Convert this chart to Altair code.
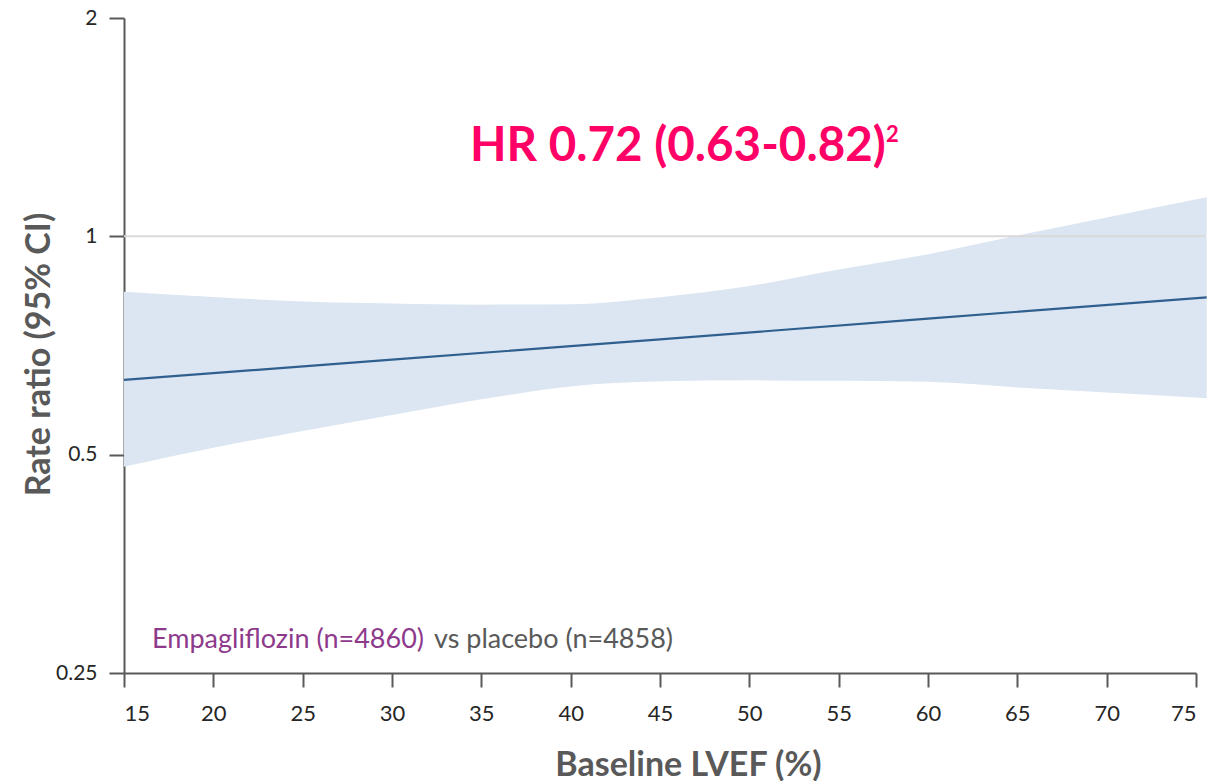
import altair as alt
import pandas as pd

# Baseline LVEF (%) grid at which the fitted curve and its 95% CI are read
lvef = [15, 20, 25, 30, 35, 40, 45, 50, 55, 60, 65, 70, 75.6]
ci_upper = [0.839, 0.825, 0.813, 0.808, 0.805, 0.806, 0.824, 0.854, 0.900, 0.945, 1.003, 1.062, 1.132]
ci_lower = [0.481, 0.511, 0.539, 0.567, 0.596, 0.621, 0.631, 0.633, 0.632, 0.630, 0.619, 0.609, 0.598]

# Fitted rate ratio along LVEF
fit_lvef = [15, 30, 45, 60, 75.6]
fit_ratio = [0.634, 0.676, 0.721, 0.770, 0.824]

x_ticks = [15, 20, 25, 30, 35, 40, 45, 50, 55, 60, 65, 70, 75]
y_ticks = [0.25, 0.5, 1, 2]

band_df = pd.DataFrame({"lvef": lvef, "lo": ci_lower, "hi": ci_upper})
fit_df = pd.DataFrame({"lvef": fit_lvef, "ratio": fit_ratio})

GREY = "#595959"
FONT = "Lato"

x_scale = alt.Scale(domain=[15, 75], nice=False, zero=False)
y_scale = alt.Scale(type="log", base=2, domain=[0.25, 2], nice=False)

x_axis = alt.Axis(
    values=x_ticks, format="d", grid=False,
    domainColor=GREY, domainWidth=2, tickColor=GREY, tickWidth=2, tickSize=14,
    labelFont=FONT, labelFontSize=22, labelColor="#262626", labelPadding=16,
    title="Baseline LVEF (%)", titleFont=FONT, titleFontSize=34, titleFontWeight="bold",
    titleColor=GREY, titleX=564, titleY=102, titleAlign="center",
    titleBaseline="alphabetic", titleAnchor=None,
)
y_axis = alt.Axis(
    values=y_ticks, format="~g", grid=False,
    domainColor=GREY, domainWidth=2, tickColor=GREY, tickWidth=2, tickSize=15,
    labelFont=FONT, labelFontSize=21, labelColor="#262626", labelPadding=12,
    title="Rate ratio (95% CI)", titleFont=FONT, titleFontSize=34, titleFontWeight="bold",
    titleColor=GREY, titleX=-75, titleY=336, titleAlign="center", titleAngle=-90,
    titleBaseline="alphabetic",
)

band = alt.Chart(band_df).mark_area(
    color="#DCE6F2", opacity=1, clip=False, interpolate="monotone"
).encode(
    x=alt.X("lvef:Q", scale=x_scale, axis=x_axis),
    y=alt.Y("lo:Q", scale=y_scale, axis=y_axis),
    y2="hi:Q",
)

ref = alt.Chart(pd.DataFrame({"r": [1]})).mark_rule(color="#D9D9D9", strokeWidth=2).encode(
    y=alt.Y("r:Q", scale=y_scale, axis=y_axis),
    x=alt.value(0),
    x2=alt.value(1081),
)

fit = alt.Chart(fit_df).mark_line(color="#2F5F8E", strokeWidth=2.2, clip=False).encode(
    x=alt.X("lvef:Q", scale=x_scale, axis=x_axis),
    y=alt.Y("ratio:Q", scale=y_scale, axis=y_axis),
)

hr_text = alt.Chart(pd.DataFrame({"t": ["HR 0.72 (0.63-0.82)"]})).mark_text(
    font=FONT, fontSize=47.5, fontWeight="bold", color="#FF0066", align="left", baseline="alphabetic"
).encode(text="t:N", x=alt.value(346), y=alt.value(143))

hr_sup = alt.Chart(pd.DataFrame({"t": ["2"]})).mark_text(
    font=FONT, fontSize=22, fontWeight="bold", color="#FF0066", align="left", baseline="alphabetic"
).encode(text="t:N", x=alt.value(762), y=alt.value(124))

empa_text = alt.Chart(pd.DataFrame({"t": ["Empagliflozin (n=4860)"]})).mark_text(
    font=FONT, fontSize=27, color="#8E3A8C", align="left", baseline="alphabetic"
).encode(text="t:N", x=alt.value(28), y=alt.value(630))

pbo_text = alt.Chart(pd.DataFrame({"t": ["vs placebo (n=4858)"]})).mark_text(
    font=FONT, fontSize=27, color=GREY, align="left", baseline="alphabetic"
).encode(text="t:N", x=alt.value(310), y=alt.value(630))

chart = alt.layer(band, ref, fit, hr_text, hr_sup, empa_text, pbo_text).properties(
    width=1072,
    height=655,
    autosize=alt.AutoSizeParams(type="none"),
    padding={"left": 124, "top": 18, "right": 18, "bottom": 108},
    background="white",
    view=alt.ViewBackground(stroke=None, strokeWidth=0),
).configure_view(stroke=None, strokeWidth=0).configure_axis(
    grid=False, gridColor="transparent", gridOpacity=0
)

chart.save("out.html", embed_options={"renderer": "svg", "actions": False})
